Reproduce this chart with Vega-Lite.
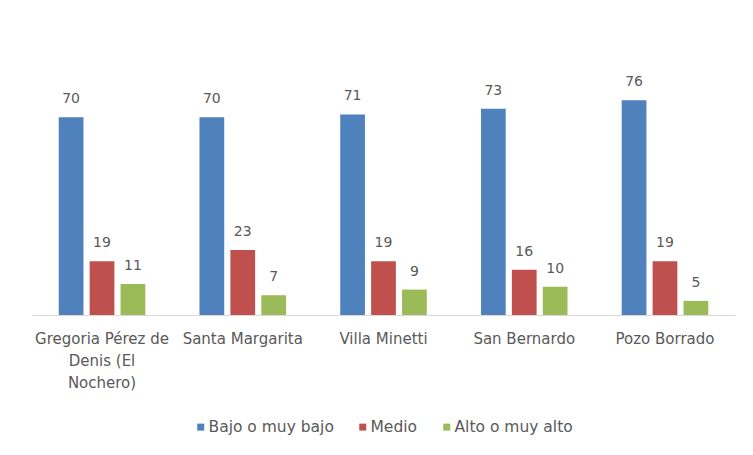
{
  "$schema": "https://vega.github.io/schema/vega-lite/v6.json",
  "width": 703,
  "height": 226,
  "autosize": {"type": "none"},
  "padding": {"left": 32, "top": 89, "right": 18, "bottom": 140},
  "background": "white",
  "config": {
    "view": {"stroke": null},
    "font": "DejaVu Sans"
  },
  "data": {
    "values": [
      {"lugar": "Gregoria Pérez de Denis (El Nochero)", "nivel": "Bajo o muy bajo", "valor": 70},
      {"lugar": "Gregoria Pérez de Denis (El Nochero)", "nivel": "Medio", "valor": 19},
      {"lugar": "Gregoria Pérez de Denis (El Nochero)", "nivel": "Alto o muy alto", "valor": 11},
      {"lugar": "Santa Margarita", "nivel": "Bajo o muy bajo", "valor": 70},
      {"lugar": "Santa Margarita", "nivel": "Medio", "valor": 23},
      {"lugar": "Santa Margarita", "nivel": "Alto o muy alto", "valor": 7},
      {"lugar": "Villa Minetti", "nivel": "Bajo o muy bajo", "valor": 71},
      {"lugar": "Villa Minetti", "nivel": "Medio", "valor": 19},
      {"lugar": "Villa Minetti", "nivel": "Alto o muy alto", "valor": 9},
      {"lugar": "San Bernardo", "nivel": "Bajo o muy bajo", "valor": 73},
      {"lugar": "San Bernardo", "nivel": "Medio", "valor": 16},
      {"lugar": "San Bernardo", "nivel": "Alto o muy alto", "valor": 10},
      {"lugar": "Pozo Borrado", "nivel": "Bajo o muy bajo", "valor": 76},
      {"lugar": "Pozo Borrado", "nivel": "Medio", "valor": 19},
      {"lugar": "Pozo Borrado", "nivel": "Alto o muy alto", "valor": 5}
    ]
  },
  "encoding": {
    "x": {
      "field": "lugar",
      "type": "nominal",
      "sort": null,
      "scale": {"paddingInner": 0.385, "paddingOuter": 0.19},
      "axis": {
        "title": null,
        "labelAngle": 0,
        "ticks": false,
        "domainColor": "#D9D9D9",
        "domainWidth": 1,
        "labelColor": "#595959",
        "labelFont": "DejaVu Sans",
        "labelFontSize": 15,
        "labelLineHeight": 22,
        "labelPadding": 16,
        "labelLimit": 200,
        "labelExpr": "datum.label == 'Gregoria Pérez de Denis (El Nochero)' ? ['Gregoria Pérez de', 'Denis (El', 'Nochero)'] : datum.label"
      }
    },
    "xOffset": {
      "field": "nivel",
      "type": "nominal",
      "sort": ["Bajo o muy bajo", "Medio", "Alto o muy alto"],
      "scale": {"paddingInner": 0.2}
    },
    "y": {
      "field": "valor",
      "type": "quantitative",
      "scale": {"domain": [0, 80]},
      "axis": null
    }
  },
  "layer": [
    {
      "mark": {"type": "bar"},
      "encoding": {
        "color": {
          "field": "nivel",
          "type": "nominal",
          "sort": ["Bajo o muy bajo", "Medio", "Alto o muy alto"],
          "scale": {
            "domain": ["Bajo o muy bajo", "Medio", "Alto o muy alto"],
            "range": ["#4F81BD", "#C0504D", "#9BBB59"]
          },
          "legend": {
            "title": null,
            "orient": "none",
            "legendX": 161,
            "legendY": 330,
            "direction": "horizontal",
            "symbolType": "square",
            "symbolSize": 49,
            "symbolStrokeWidth": 0,
            "labelFont": "DejaVu Sans",
            "labelFontSize": 15.5,
            "labelColor": "#595959",
            "labelOffset": 0,
            "columnPadding": 21
          }
        }
      }
    },
    {
      "mark": {"type": "text", "baseline": "bottom", "dy": -11, "fontSize": 14, "font": "DejaVu Sans", "color": "#595959"},
      "encoding": {
        "text": {"field": "valor", "type": "quantitative"}
      }
    }
  ]
}
